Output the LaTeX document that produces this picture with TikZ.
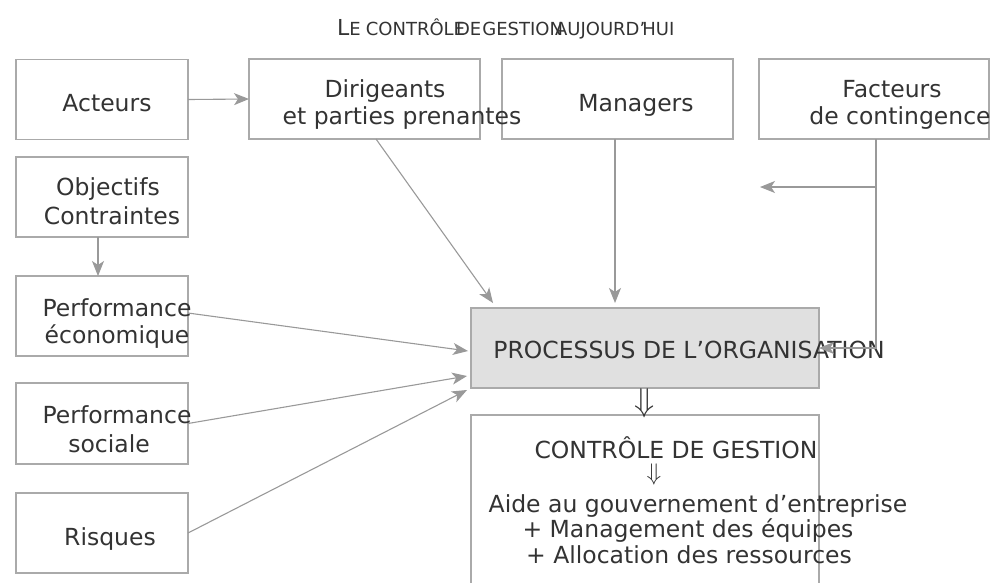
\RequirePackage{fix-cm}
\documentclass[tikz,border=0pt]{standalone}
\usepackage{fontspec}
\setmainfont{DejaVu Sans}
\usetikzlibrary{arrows.meta,calc}
\definecolor{txt}{HTML}{333333}
\definecolor{edge}{HTML}{AAAAAA}
\definecolor{ln}{HTML}{999999}
\definecolor{procfill}{HTML}{E0E0E0}
\begin{document}
\begin{tikzpicture}[x=1pt,y=-1pt,
  box/.style={draw=edge,line width=1.2pt,inner sep=0pt,outer sep=0pt,minimum width=172pt,minimum height=80pt},
  lbl/.style={text=txt,font=\fontsize{23.5}{27}\selectfont,anchor=base,inner sep=0pt},
  arr/.style={draw=ln,line width=1.1pt,-{Stealth[length=15pt,width=12pt,inset=4pt]}},
  dbl/.style={text=txt,inner sep=0pt}]
\useasboundingbox (0,0) rectangle (995,582);
\clip (0,0) rectangle (995,582);
% title
\node[text=txt,anchor=base west,inner sep=0pt] (title) at (337,35)
  {{\fontsize{22}{22}\selectfont L}{\fontsize{18}{18}\selectfont E\hspace{5pt}CONTRÔLE\hspace{-9pt}DE\hspace{1pt}GESTION\hspace{-8pt}AUJOURD’\hspace{-3pt}HUI}};
% boxes
\node[box] (act) at (102,99.5) {};
\node[box,minimum width=231pt] (dir) at (364.5,99) {};
\node[box,minimum width=231pt] (man) at (617.5,99) {};
\node[box,minimum width=230pt] (fac) at (874,99) {};
\node[box] (obj) at (102,197) {};
\node[box] (peco) at (102,316) {};
\node[box,minimum height=81pt] (psoc) at (102,423.5) {};
\node[box] (risq) at (102,533) {};
\node[box,fill=procfill,minimum width=348pt] (proc) at (645,348) {};
\node[box,minimum width=348pt,minimum height=200pt] (cdg) at (645,515) {};
% labels
\node[lbl] (tact) at (107,111) {Acteurs};
\node[lbl] (tdira) at (385,97) {Dirigeants};
\node[lbl] (tdirb) at (402,124) {et parties prenantes};
\node[lbl] (tman) at (636,111) {Managers};
\node[lbl] (tfaca) at (892,97) {Facteurs};
\node[lbl] (tfacb) at (900,124) {de contingence};
\node[lbl] (tobja) at (108,195) {Objectifs};
\node[lbl] (tobjb) at (112,224) {Contraintes};
\node[lbl] (tpecoa) at (117,316) {Performance};
\node[lbl] (tpecob) at (117,343) {économique};
\node[lbl] (tpsoca) at (117,423) {Performance};
\node[lbl] (tpsocb) at (109,452) {sociale};
\node[lbl] (trisq) at (110,545) {Risques};
\node[lbl] (tproc) at (689,358) {PROCESSUS DE L’ORGANISATION};
\node[lbl] (tcdg) at (676,458) {CONTRÔLE DE GESTION};
\node[dbl,font=\fontsize{24}{24}\selectfont] (sarr) at (654,474) {$\Downarrow$};
\node[lbl] (taide) at (698,512) {Aide au gouvernement d’entreprise};
\node[lbl] (tmgt) at (688,537) {+ Management des équipes};
\node[lbl] (tall) at (689,563) {+ Allocation des ressources};
\node[dbl,font=\fontsize{33}{33}\selectfont] (barr) at (645,403) {$\Downarrow$};
% connectors
\coordinate (fk) at (760,187);
\draw[arr] (act.east) -- (dir.west);
\draw[arr] ($(obj.south)+(-4,0)$) -- ($(peco.north)+(-4,0)$);
\draw[arr] ($(dir.south)+(11.5,0)$) -- ($(proc.north west)+(22,-5)$);
\draw[arr] ($(man.south)+(-2.5,0)$) -- ($(proc.north)+(-30,-5)$);
\draw[arr] ($(fac.south)+(2,0)$) |- (proc.east);
\draw[arr] ($(fac.south)+(2,48)$) -- (fk);
\draw[arr] ($(peco.east)+(0,-3)$) -- ($(proc.west)+(-3,3)$);
\draw[arr] (psoc.east) -- ($(proc.west)+(-4,28)$);
\draw[arr] (risq.east) -- ($(proc.south west)+(-4,2)$);
\end{tikzpicture}
\end{document}
